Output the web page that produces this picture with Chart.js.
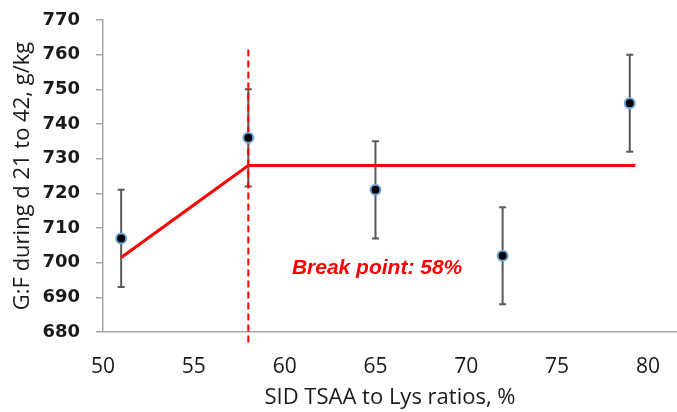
<!DOCTYPE html>
<html>
<head>
<meta charset="utf-8">
<script src="https://cdn.jsdelivr.net/npm/chart.js@4"></script>
<style>
    html, body { margin: 0; background: #fff; }
    #wrap { width: 677px; height: 412px; }
</style>
</head>
<body>
<div id="wrap"><canvas id="chart"></canvas></div>
<script>
// means and error bars
const ratios = [51, 58, 65, 72, 79];
const gainFeed = [707, 736, 721, 702, 746];
const errorSize = [14, 14, 14, 14, 14];

// broken-line fit and the break point marker
const fitX = [51, 58, 79.3];
const fitY = [701.5, 728, 728];
const breakX = [58, 58];
const breakY = [677, 762.5];
const breakLabel = "Break point: 58%";
const breakLabelAt = [60.4, 698.3];

const xTicks = [50, 55, 60, 65, 70, 75, 80];
const yTicks = [680, 690, 700, 710, 720, 730, 740, 750, 760, 770];

const axisGray = "#a6a6a6";
const textColor = "#1a1a1a";

const errorBars = {
    id: "errorBars",
    beforeDatasetsDraw(chart) {
        const { ctx, scales: { x, y } } = chart;
        ctx.save();
        ctx.strokeStyle = "#595959";
        ctx.lineWidth = 2;
        ratios.forEach((r, i) => {
            const px = x.getPixelForValue(r);
            const top = y.getPixelForValue(gainFeed[i] + errorSize[i]);
            const bot = y.getPixelForValue(gainFeed[i] - errorSize[i]);
            ctx.beginPath();
            ctx.moveTo(px, top);
            ctx.lineTo(px, bot);
            ctx.moveTo(px - 3.5, top);
            ctx.lineTo(px + 3.5, top);
            ctx.moveTo(px - 3.5, bot);
            ctx.lineTo(px + 3.5, bot);
            ctx.stroke();
        });
        ctx.restore();
    },
};

const breakText = {
    id: "breakText",
    afterDraw(chart) {
        const { ctx, scales: { x, y } } = chart;
        ctx.save();
        ctx.fillStyle = "#ff0000";
        ctx.font = "italic bold 21px 'Liberation Sans'";
        ctx.textAlign = "left";
        ctx.textBaseline = "middle";
        ctx.fillText(breakLabel, x.getPixelForValue(breakLabelAt[0]), y.getPixelForValue(breakLabelAt[1]));
        ctx.restore();
    },
};

new Chart(document.getElementById("chart"), {
    type: "scatter",
    data: {
        datasets: [
            {
                label: "G:F",
                data: ratios.map((r, i) => ({ x: r, y: gainFeed[i] })),
                pointRadius: 5,
                pointBackgroundColor: "#000",
                pointBorderColor: "#6fa8dc",
                pointBorderWidth: 2,
                showLine: false,
            },
            {
                label: "fit",
                data: fitX.map((v, i) => ({ x: v, y: fitY[i] })),
                showLine: true,
                borderColor: "#ff0000",
                borderWidth: 3,
                pointRadius: 0,
            },
            {
                label: "break",
                data: breakX.map((v, i) => ({ x: v, y: breakY[i] })),
                showLine: true,
                borderColor: "#ff0000",
                borderWidth: 2,
                borderDash: [7, 4],
                pointRadius: 0,
                clip: false,
            },
        ],
    },
    options: {
        responsive: true,
        maintainAspectRatio: false,
        animation: false,
        layout: { autoPadding: false, padding: { top: 20, right: 0, left: 0, bottom: 0 } },
        plugins: { legend: { display: false }, tooltip: { enabled: false } },
        scales: {
            x: {
                type: "linear",
                min: 50,
                max: 81.6,
                afterBuildTicks: (s) => { s.ticks = xTicks.map((v) => ({ value: v })); },
                afterFit: (s) => { s.height = 80; s.paddingLeft = 0; s.paddingRight = 0; },
                grid: { drawOnChartArea: false, drawTicks: false },
                border: { color: axisGray, width: 1.5 },
                ticks: { color: textColor, padding: 22, font: { family: "'Open Sans'", size: 21 } },
                title: {
                    display: true,
                    text: "SID TSAA to Lys ratios, %",
                    color: textColor,
                    font: { family: "'Open Sans'", size: 22 },
                    padding: { top: 0, bottom: 1 },
                },
            },
            y: {
                min: 680,
                max: 770,
                afterBuildTicks: (s) => { s.ticks = yTicks.map((v) => ({ value: v })); },
                afterFit: (s) => { s.width = 103; s.paddingTop = 0; s.paddingBottom = 0; },
                grid: { drawOnChartArea: false, drawTicks: true, tickLength: 7, color: axisGray, lineWidth: 1.5 },
                border: { color: axisGray, width: 1.5 },
                ticks: { color: textColor, padding: 16, font: { family: "'DejaVu Sans'", size: 18, weight: "bold" } },
                title: {
                    display: true,
                    text: "G:F during d 21 to 42, g/kg",
                    color: textColor,
                    font: { family: "'Open Sans'", size: 22 },
                    padding: { top: 10, bottom: 0 },
                },
            },
        },
    },
    plugins: [errorBars, breakText],
});
</script>
</body>
</html>
